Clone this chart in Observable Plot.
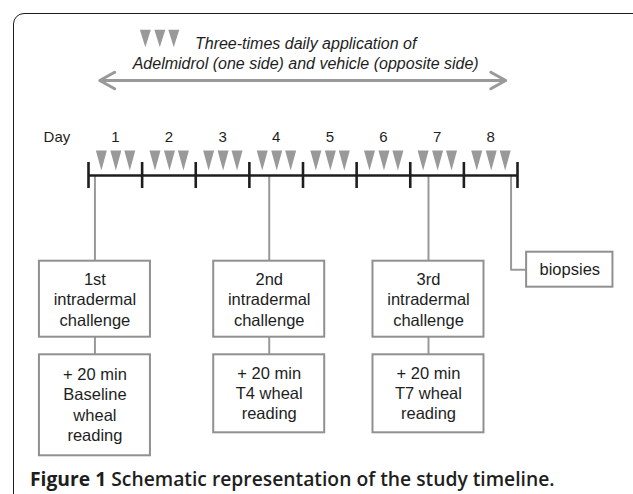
<!DOCTYPE html>
<html>
<head>
<meta charset="utf-8">
<script src="https://cdn.jsdelivr.net/npm/d3@7"></script>
<script src="https://cdn.jsdelivr.net/npm/@observablehq/plot@0.6"></script>
<style>
  html, body { margin: 0; padding: 0; background: #fff; width: 633px; height: 494px; overflow: hidden; }
  #wrap { position: relative; width: 633px; height: 494px; }
  #frame { position: absolute; left: 13px; top: 12.5px; width: 700px; height: 600px;
           border: 1.6px solid #1c1c1c; border-radius: 11px; box-sizing: border-box; }
  #chart { position: absolute; left: 0; top: 0; }
  #caption { position: absolute; left: 30px; top: 466px; white-space: nowrap;
             font-family: "Open Sans", "Noto Sans", sans-serif; font-size: 17px; line-height: 26px; color: #1e1e1e; }
  #caption b { font-weight: 700; }
  #caption span { font-weight: 600; }
</style>
</head>
<body>
<div id="wrap">
  <div id="frame"></div>
  <div id="chart"></div>
  <div id="caption"><b>Figure 1</b> <span>Schematic representation of the study timeline.</span></div>
</div>
<script>
// ---------- data ----------
const days = [1, 2, 3, 4, 5, 6, 7, 8];
const dayTicks = [0, 1, 2, 3, 4, 5, 6, 7, 8];
const doseOffsets = [0.24, 0.51, 0.77];          // three daily applications within a day
const legendMarks = [1.06, 1.33, 1.59];          // legend triangles (day units)
const legendLines = ["Three-times daily application of", "Adelmidrol (one side) and vehicle (opposite side)"];
const applicationSpan = [0.21, 7.78];
const challengeDays = [0.12, 3.37, 6.34];
const challengeLabels = ["1st\nintradermal\nchallenge", "2nd\nintradermal\nchallenge", "3rd\nintradermal\nchallenge"];
const readingLabels = ["+ 20 min\nBaseline\nwheal\nreading", "+ 20 min\nT4 wheal\nreading", "+ 20 min\nT7 wheal\nreading"];
const biopsyDay = 7.88;
const biopsyLabel = "biopsies";

// ---------- layout (pixels on y, days on x) ----------
const L = {
  legendX: 4.05, legendY1: 41.7, legendY2: 61.7, legendTriY: 38,
  arrowY: 80, dayLabelY: 137, dayWordX: -0.34,
  doseY: 160, timelineY: 175, tickTop: 162, tickBot: 188,
  boxHalf: 1.035,
  row1Top: 260.7, row1Bot: 336.7, row2Top: 354.3,
  row2BotLong: 455.3, row2BotShort: 432.3,
  bioTop: 251.7, bioBot: 286.7, bioX1: 8.17, bioX2: 9.78, bioElbowY: 269.3
};
const gray = "#999999", boxGray = "#909090", ink = "#1e1e1e";
const font = "'Liberation Sans', Arial, Helvetica, sans-serif";

function downTriangle(ratio) {
  return { draw(ctx, size) {
    const r = Math.sqrt(size / Math.PI), w = r * ratio;
    ctx.moveTo(-w, -r); ctx.lineTo(w, -r); ctx.lineTo(0, r); ctx.closePath();
  }};
}

const doses = days.flatMap(d => doseOffsets.map(o => ({x: d - 1 + o})));
const challenges = challengeDays.map((d, i) => ({
  x: d, label: challengeLabels[i], reading: readingLabels[i],
  bot2: readingLabels[i].split("\n").length > 3 ? L.row2BotLong : L.row2BotShort
}));
const mid = (applicationSpan[0] + applicationSpan[1]) / 2;

const plot = Plot.plot({
  width: 633, height: 466,
  marginTop: 0, marginRight: 0, marginBottom: 0, marginLeft: 0,
  x: {type: "linear", domain: [0, 8], range: [88, 517], axis: null},
  y: {type: "linear", domain: [0, 466], range: [0, 466], axis: null},
  style: {fontFamily: font, background: "transparent", overflow: "visible"},
  marks: [
    // legend
    Plot.dot(legendMarks, {x: d => d, y: () => L.legendTriY, r: 8.7, symbol: downTriangle(0.63), fill: gray, stroke: "none"}),
    Plot.text([legendLines.join("\n")], {x: () => L.legendX, y: () => (L.legendY1 + L.legendY2) / 2,
      text: d => d, fontSize: 16, fontStyle: "italic", lineHeight: 1.25, fill: ink}),
    // application span double arrow
    Plot.arrow([{a: mid, b: applicationSpan[0]}, {a: mid, b: applicationSpan[1]}], {
      x1: "a", x2: "b", y1: () => L.arrowY, y2: () => L.arrowY,
      stroke: gray, strokeWidth: 3, headLength: 8.5, headAngle: 58}),
    // day labels
    Plot.text(["Day"], {x: () => L.dayWordX, y: () => L.dayLabelY, text: d => d, textAnchor: "end", fontSize: 15, fill: ink}),
    Plot.text(days, {x: d => d - 0.5, y: () => L.dayLabelY, text: d => String(d), fontSize: 15, fill: ink}),
    // doses
    Plot.dot(doses, {x: "x", y: () => L.doseY, r: 10, symbol: downTriangle(0.55), fill: gray, stroke: "none"}),
    // connectors
    Plot.ruleX(challenges, {x: "x", y1: () => L.timelineY, y2: () => L.row1Top, stroke: gray, strokeWidth: 2}),
    Plot.ruleX(challenges, {x: "x", y1: () => L.row1Bot, y2: () => L.row2Top, stroke: gray, strokeWidth: 2}),
    Plot.line([[biopsyDay, L.timelineY], [biopsyDay, L.bioElbowY], [L.bioX1, L.bioElbowY]], {
      x: d => d[0], y: d => d[1], stroke: gray, strokeWidth: 2, curve: "linear"}),
    // timeline
    Plot.ruleY([L.timelineY], {x1: 0, x2: 8, stroke: ink, strokeWidth: 2.6}),
    Plot.ruleX(dayTicks, {x: d => d, y1: () => L.tickTop, y2: () => L.tickBot, stroke: ink, strokeWidth: 2.6}),
    // boxes
    Plot.rect(challenges, {x1: d => d.x - L.boxHalf, x2: d => d.x + L.boxHalf, y1: () => L.row1Top, y2: () => L.row1Bot,
      fill: "white", stroke: boxGray, strokeWidth: 2}),
    Plot.rect(challenges, {x1: d => d.x - L.boxHalf, x2: d => d.x + L.boxHalf, y1: () => L.row2Top, y2: "bot2",
      fill: "white", stroke: boxGray, strokeWidth: 2}),
    Plot.rect([biopsyLabel], {x1: () => L.bioX1, x2: () => L.bioX2, y1: () => L.bioTop, y2: () => L.bioBot,
      fill: "white", stroke: boxGray, strokeWidth: 2}),
    Plot.text(challenges, {x: "x", y: () => (L.row1Top + L.row1Bot) / 2 - 0.3, text: "label",
      fontSize: 16.5, lineHeight: 1.23, fill: ink}),
    Plot.text(challenges, {x: "x", y: d => (L.row2Top + d.bot2) / 2 - 1.2, text: "reading",
      fontSize: 16.5, lineHeight: 1.23, fill: ink}),
    Plot.text([biopsyLabel], {x: () => (L.bioX1 + L.bioX2) / 2, y: () => (L.bioTop + L.bioBot) / 2,
      text: d => d, fontSize: 16.5, fill: ink})
  ]
});
document.getElementById("chart").appendChild(plot);

// fit caption to the reference width
const cap = document.getElementById("caption");
const target = 525;
let fs = 17;
for (let i = 0; i < 4; i++) {
  const w = cap.getBoundingClientRect().width;
  fs = fs * target / w;
  cap.style.fontSize = fs + "px";
}
cap.style.top = (479 - 13) + "px";
</script>
</body>
</html>
